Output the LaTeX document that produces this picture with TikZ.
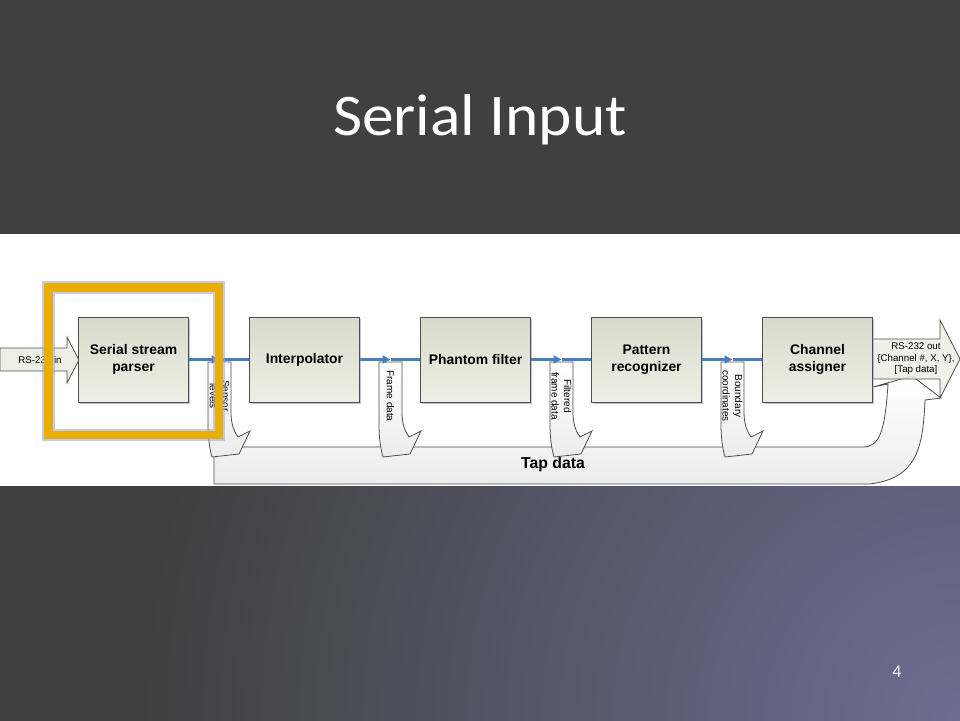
\documentclass[tikz,border=0pt]{standalone}
\usepackage{fontspec}
\usepackage{graphicx}
\setmainfont{Liberation Sans}
\newfontfamily\titlefont{Carlito}
\usetikzlibrary{arrows.meta,shadows}
\definecolor{bgdark}{RGB}{64,64,64}
\definecolor{bglight}{RGB}{108,110,146}
\definecolor{boxtop}{RGB}{216,219,203}
\definecolor{boxbot}{RGB}{237,239,228}
\definecolor{edgec}{RGB}{78,78,78}
\definecolor{flowblue}{RGB}{74,126,192}
\definecolor{hilite}{RGB}{232,174,0}
\definecolor{glowc}{RGB}{160,166,236}
\definecolor{shadowc}{RGB}{170,186,214}
\definecolor{arrfill}{RGB}{236,236,236}
\pgfdeclareradialshading{bgshade}{\pgfpoint{0bp}{0bp}}{color(0bp)=(bglight); color(12.5bp)=(bgdark); color(50bp)=(bgdark)}
\tikzset{
  procbox/.style={draw=edgec, line width=0.9pt, top color=boxtop, bottom color=boxbot,
    minimum width=110pt, minimum height=85pt, inner sep=0pt, align=center,
    font=\fontsize{13.9}{17}\selectfont\bfseries,
    drop shadow={shadow xshift=1pt, shadow yshift=-2pt, fill=shadowc, opacity=0.8}},
  flow/.style={draw=flowblue, line width=2.6pt},
  flowtip/.style={flow, -{Triangle[length=8pt,width=8pt]}},
  blockarr/.style={draw=edgec, line width=0.8pt, fill=boxbot},
  downarr/.style={draw=edgec, line width=0.8pt, top color=white, bottom color=arrfill},
  smalllab/.style={font=\fontsize{9.7}{11.5}\selectfont, align=center, inner sep=0pt},
  vlab/.style={font=\fontsize{10}{12.5}\selectfont, align=center, inner sep=0pt, rotate=-90},
  dnarr/.pic={\path[downarr] (0,0) -- (0,62) .. controls (0,78) and (2,88) .. (4,95)
      -- (31,92) -- (42,69) -- (30,75) .. controls (25,68) and (23,60) .. (23,50)
      -- (23,0) -- cycle;}
}
\begin{document}
\begin{tikzpicture}[x=1pt,y=-1pt]
\useasboundingbox (0,0) rectangle (960,720);
% background
\fill[bgdark] (0,0) rectangle (960,720);
\begin{scope}
  \clip (0,486) rectangle (960,720);
  \shade[shading=bgshade] (960,720) circle (1640);
\end{scope}
\fill[white] (0,234) rectangle (960,486);

% Tap data big curved arrow
\path[draw=edgec, line width=0.8pt, top color=white, bottom color=arrfill]
  (214,447) -- (863,447) .. controls (880,447) and (885,430) .. (888,384)
  -- (873,387) -- (912,376) -- (941,398) -- (925,400)
  .. controls (923,450) and (916,478) .. (870,484) -- (214,484) -- cycle;
\node[font=\fontsize{15.8}{18}\selectfont\bfseries, inner sep=0pt] (tap) at (553,464) {Tap data};

% RS-232 out arrow
\path[blockarr, fill opacity=0.85] (873,339) -- (940,339) -- (940,320) -- (960,359)
  -- (940,398) -- (940,379) -- (873,379) -- cycle;
\node[smalllab] (rsout) at (916,359) {RS-232 out\\\{Channel \#, X, Y\},\\{[}Tap data{]}};

% RS-232 in arrow
\path[blockarr] (0,348) -- (67,348) -- (67,337) -- (79,360) -- (67,383) -- (67,371) -- (0,371) -- cycle;
\node[smalllab] (rsin) at (40,360) {RS-232 in};

% process boxes
\node[procbox] (b1) at (133.5,359.5) {Serial stream\\parser};
\node[procbox] (b2) at (304.5,359.5) {Interpolator};
\node[procbox] (b3) at (475.5,359.5) {Phantom filter};
\node[procbox] (b4) at (646.5,359.5) {Pattern\\recognizer};
\node[procbox] (b5) at (817.5,359.5) {Channel\\assigner};

% down arrows
\foreach \i/\L in {1/208,2/379,3/550,4/721}{
  \pic at (\L,362) {dnarr};
}
\coordinate (t1) at (219.5,359.5);
\coordinate (t2) at (390.5,359.5);
\coordinate (t3) at (561.5,359.5);
\coordinate (t4) at (732.5,359.5);
\draw[flowtip] (b1.east) -- (t1);
\draw[flow] (t1) -- (b2.west);
\draw[flowtip] (b2.east) -- (t2);
\draw[flow] (t2) -- (b3.west);
\draw[flowtip] (b3.east) -- (t3);
\draw[flow] (t3) -- (b4.west);
\draw[flowtip] (b4.east) -- (t4);
\draw[flow] (t4) -- (b5.west);

\node[vlab] (l1) at (219.5,396) {Sensor\\levels};
\node[vlab] (l2) at (390.5,396) {Frame data};
\node[vlab] (l3) at (561.5,396) {Filtered\\frame data};
\node[vlab] (l4) at (732.5,396) {Boundary\\coordinates};

% highlight frame
\draw[glowc, line width=12.5pt, opacity=0.6] (48.5,287.5) rectangle (219,435);
\draw[hilite, line width=8.5pt] (48.5,287.5) rectangle (219,435);

% title and page number
\node[font=\titlefont\fontsize{59}{70}\selectfont, text=white, anchor=base, inner sep=0pt] (title) at (480,135) {\scalebox{1.075}[1]{Serial Input}};
\node[font=\titlefont\fontsize{18}{20}\selectfont, text=white!88!gray, anchor=base, inner sep=0pt] (pnum) at (897,677) {4};
\end{tikzpicture}
\end{document}
